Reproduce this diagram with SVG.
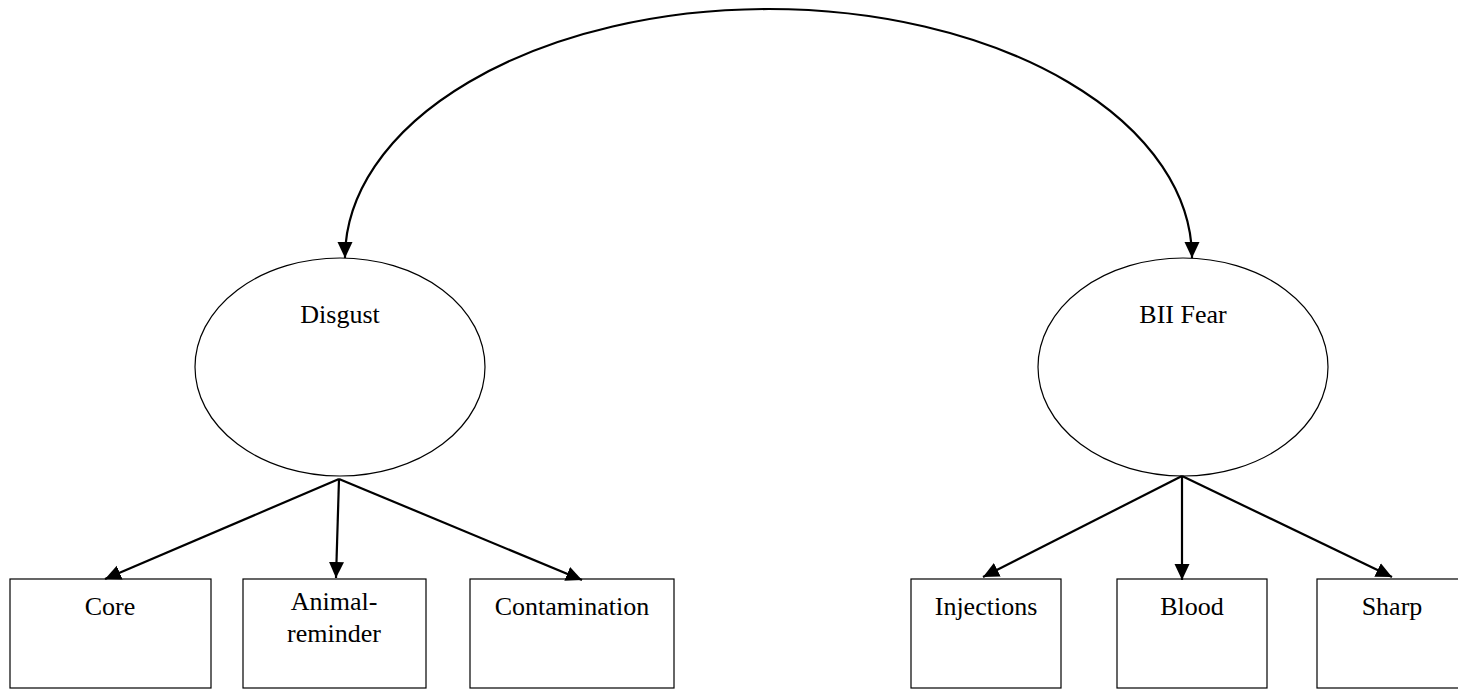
<svg xmlns="http://www.w3.org/2000/svg" width="1458" height="690" viewBox="0 0 1458 690">
<defs>
<style>
.node{fill:#fff;stroke:#000;stroke-width:1.2}
.lbl{font-family:"Liberation Serif","Times New Roman",serif;font-size:26px;fill:#000;text-anchor:middle}
.conn{fill:none;stroke:#000;stroke-width:2.2}
</style>
<marker id="ah" markerUnits="userSpaceOnUse" markerWidth="18" markerHeight="18" viewBox="0 0 18 18" refX="16" refY="9" orient="auto-start-reverse">
<path d="M0,1.5 L16,9 L0,16.5 Z" fill="#000"/>
</marker>
</defs>
<rect width="1458" height="690" fill="#fff"/>
<g id="disgust">
<ellipse class="node" cx="340" cy="367" rx="145" ry="109"/>
<text class="lbl" x="340" y="323">Disgust</text>
</g>
<g id="bii-fear">
<ellipse class="node" cx="1183" cy="367" rx="145" ry="109"/>
<text class="lbl" x="1183" y="323">BII Fear</text>
</g>
<g id="core">
<rect class="node" x="10" y="579" width="201" height="109"/>
<text class="lbl" x="110" y="615">Core</text>
</g>
<g id="animal-reminder">
<rect class="node" x="243" y="579" width="183" height="109"/>
<text class="lbl" x="334" y="610">Animal-</text>
<text class="lbl" x="334" y="642">reminder</text>
</g>
<g id="contamination">
<rect class="node" x="470" y="579" width="204" height="109"/>
<text class="lbl" x="572" y="615">Contamination</text>
</g>
<g id="injections">
<rect class="node" x="911" y="579" width="150" height="109"/>
<text class="lbl" x="986" y="615">Injections</text>
</g>
<g id="blood">
<rect class="node" x="1117" y="579" width="150" height="109"/>
<text class="lbl" x="1192" y="615">Blood</text>
</g>
<g id="sharp">
<rect class="node" x="1317" y="579" width="150" height="109"/>
<text class="lbl" x="1392" y="615">Sharp</text>
</g>
<g id="connectors">
<path class="conn" d="M345,258 A423.5,249 0 0 1 1192,258" marker-start="url(#ah)" marker-end="url(#ah)"/>
<line class="conn" x1="339" y1="479" x2="105" y2="579" marker-end="url(#ah)"/>
<line class="conn" x1="339" y1="479" x2="336" y2="578" marker-end="url(#ah)"/>
<line class="conn" x1="339" y1="479" x2="582" y2="580" marker-end="url(#ah)"/>
<line class="conn" x1="1182" y1="476" x2="983" y2="577" marker-end="url(#ah)"/>
<line class="conn" x1="1182" y1="476" x2="1182" y2="580" marker-end="url(#ah)"/>
<line class="conn" x1="1182" y1="476" x2="1392" y2="577" marker-end="url(#ah)"/>
</g>
</svg>
